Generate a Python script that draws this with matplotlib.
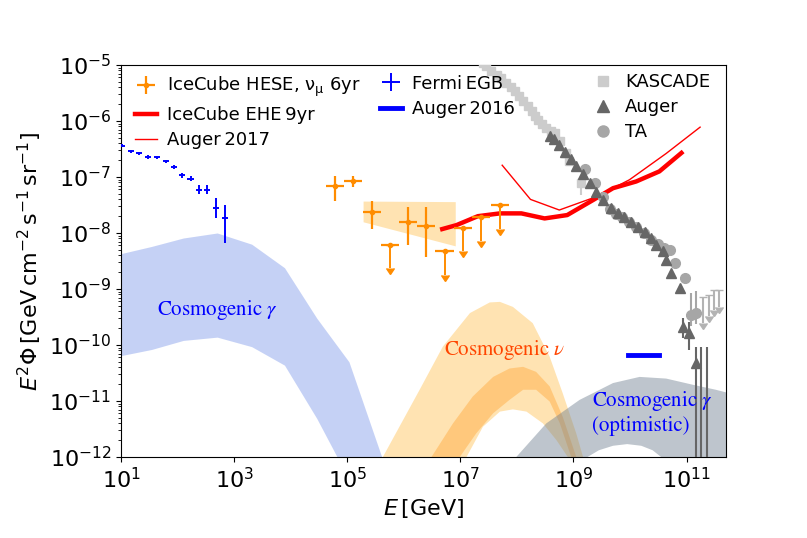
import numpy as np
import matplotlib
matplotlib.use("Agg")
import matplotlib.pyplot as plt
from matplotlib.lines import Line2D
from matplotlib.ticker import LogLocator, NullLocator, FixedLocator

# ---- data (log10 values) ----
# Fermi EGB
fermi_logE = [1.01, 1.17, 1.32, 1.48, 1.63, 1.79, 1.94, 2.08, 2.23, 2.38, 2.52, 2.68, 2.84]
fermi_logF = [-6.44, -6.54, -6.58, -6.64, -6.65, -6.72, -6.82, -6.97, -7.03, -7.23, -7.23, -7.55, -7.74]
fermi_dup = [0.03, 0.03, 0.03, 0.03, 0.03, 0.03, 0.04, 0.05, 0.05, 0.08, 0.08, 0.18, 0.24]
fermi_dlo = [0.03, 0.03, 0.03, 0.03, 0.03, 0.03, 0.04, 0.05, 0.05, 0.08, 0.08, 0.18, 0.44]

# IceCube HESE points and upper limits
hese_logE = [4.78, 5.10, 5.43, 6.08, 6.40]
hese_logF = [-7.16, -7.08, -7.63, -7.80, -7.875]
hese_top = [-6.98, -6.99, -7.42, -7.54, -7.53]
hese_bot = [-7.42, -7.18, -7.93, -8.21, -8.43]
hese_ul_logE = [5.75, 6.72, 7.05, 7.37, 7.70]
hese_ul_logF = [-8.21, -8.32, -7.91, -7.72, -7.50]
hese_ul_tip = [-8.63, -8.75, -8.33, -8.15, -7.93]

# IceCube numu 6yr band
numu_logE = [5.28, 6.91]
numu_hi = [-7.43, -7.44]
numu_lo = [-7.80, -8.23]

# IceCube EHE 9yr
ehe_logE = [6.68, 6.93, 7.31, 7.70, 8.08, 8.49, 8.89, 9.35, 9.70, 10.11, 10.52, 10.91]
ehe_logF = [-7.93, -7.86, -7.70, -7.65, -7.65, -7.74, -7.68, -7.41, -7.20, -7.08, -6.90, -6.57]

# Auger 2017
aug17_logE = [7.74, 8.24, 8.75, 9.41, 9.99, 10.64, 11.24]
aug17_logF = [-6.79, -7.40, -7.59, -7.35, -7.05, -6.58, -6.11]

# Auger 2016
aug16_logE = [9.96, 10.51]
aug16_logF = [-10.17, -10.17]

# cosmogenic gamma band
cg_up_logE = [0.95, 1.54, 2.10, 2.70, 3.31, 3.89, 4.46, 5.03, 5.61, 5.75]
cg_up_logF = [-8.38, -8.24, -8.09, -8.00, -8.20, -8.62, -9.52, -10.30, -12.0, -12.4]
cg_lo_logE = [0.95, 1.54, 2.13, 2.70, 3.31, 3.89, 4.46, 4.69, 4.80]
cg_lo_logF = [-10.20, -10.08, -9.91, -9.86, -10.03, -10.36, -11.31, -12.0, -12.4]

# cosmogenic neutrino bands
cn_out_up_logE = [5.50, 5.63, 6.28, 6.69, 7.17, 7.52, 7.70, 7.93, 8.28, 8.58, 8.81, 9.05, 9.17, 9.25]
cn_out_up_logF = [-12.4, -12.0, -10.80, -10.03, -9.43, -9.24, -9.23, -9.32, -9.61, -10.21, -10.86, -11.58, -12.0, -12.4]
cn_out_lo_logE = [7.02, 7.11, 7.40, 7.70, 7.93, 8.17, 8.46, 8.70, 8.90, 8.97]
cn_out_lo_logF = [-12.4, -12.0, -11.46, -11.19, -11.15, -11.19, -11.40, -11.70, -12.0, -12.4]
cn_in_up_logE = [6.40, 6.49, 6.87, 7.22, 7.58, 7.87, 8.11, 8.34, 8.58, 8.81, 8.99, 9.05, 9.10]
cn_in_up_logF = [-12.4, -12.0, -11.40, -10.92, -10.57, -10.42, -10.39, -10.48, -10.74, -11.28, -11.82, -12.0, -12.4]
cn_in_lo_logE = [6.90, 6.99, 7.28, 7.58, 7.87, 8.11, 8.34, 8.58, 8.76, 8.90, 8.96, 9.00]
cn_in_lo_logF = [-12.4, -12.0, -11.58, -11.22, -10.98, -10.80, -10.80, -11.01, -11.40, -11.82, -12.0, -12.4]

# cosmogenic gamma (optimistic) band
cgo_up_logE = [7.90, 7.99, 8.52, 9.11, 9.70, 10.17, 10.64, 11.11, 11.52, 11.75]
cgo_up_logF = [-12.4, -12.0, -11.40, -10.98, -10.68, -10.57, -10.60, -10.71, -10.80, -10.86]
cgo_hole_logE = [9.20, 9.25, 9.45, 9.70, 9.95, 10.20, 10.40, 10.55, 10.60]
cgo_hole_logF = [-12.4, -12.0, -11.88, -11.80, -11.77, -11.80, -11.88, -12.0, -12.4]

# cosmic rays
kascade_logE = [7.40, 7.46, 7.55, 7.64, 7.72, 7.81, 7.89, 7.96, 8.04, 8.11, 8.19, 8.26, 8.32, 8.37,
                8.45, 8.52, 8.60, 8.67, 8.76, 8.87, 8.93, 9.14]
kascade_logF = [-4.97, -5.02, -5.10, -5.17, -5.24, -5.32, -5.40, -5.47, -5.56, -5.65, -5.74, -5.83, -5.91, -5.98,
                -6.06, -6.13, -6.17, -6.21, -6.36, -6.57, -6.72, -7.11]
kascade_dlo = [0.02] * 21 + [0.22]

auger_logE = [8.58, 8.66, 8.75, 8.85, 8.95, 9.05, 9.17, 9.29, 9.40, 9.52, 9.67, 9.79, 9.90, 10.02,
              10.14, 10.26, 10.37, 10.46, 10.58, 10.64, 10.73, 10.88, 10.94, 11.04, 11.16]
auger_logF = [-6.27, -6.33, -6.42, -6.55, -6.68, -6.81, -6.95, -7.11, -7.26, -7.41, -7.56, -7.65, -7.71, -7.80,
              -7.89, -7.98, -8.09, -8.21, -8.33, -8.48, -8.72, -8.99, -9.67, -9.79, -10.33]
auger_dup = [0.01] * 22 + [0.15, 0.2, 0.3]
auger_dlo = [0.01] * 22 + [0.2, 0.3, 2.5]
auger_ul_logE = [11.26, 11.37]
auger_ul_logF = [-10.03, -10.03]

ta_logE = [9.20, 9.39, 9.52, 9.64, 9.75, 9.85, 9.98, 10.11, 10.24, 10.37, 10.50, 10.60, 10.70, 10.79, 10.98, 11.08, 11.17]
ta_logF = [-6.85, -7.11, -7.35, -7.58, -7.66, -7.72, -7.80, -7.89, -8.00, -8.12, -8.20, -8.27, -8.30, -8.54, -8.81, -9.46, -9.43]
ta_dup = [0.01] * 15 + [0.38, 0.4]
ta_dlo = [0.01] * 15 + [0.2, 0.2]
ta_ul_logE = [11.29, 11.39, 11.49, 11.58]
ta_ul_logF = [-9.14, -9.11, -9.02, -9.02]
ta_ul_tip = [-9.61, -9.49, -9.38, -9.32]

xtick_exp = [1, 3, 5, 7, 9, 11]


def p(a):
    return 10.0 ** np.asarray(a, dtype=float)


def asym(logv, up, lo):
    v = p(logv)
    return [v - p(np.asarray(logv) - np.asarray(lo)), p(np.asarray(logv) + np.asarray(up)) - v]


fig = plt.figure(figsize=(8.07, 5.38), dpi=100)
ax = fig.add_axes([0.15, 0.1506, 0.7497, 0.7286])
ax.set_xscale('log')
ax.set_yscale('log')

# bands
ax.fill_between(p(cg_up_logE), p(np.interp(cg_up_logE, cg_lo_logE, cg_lo_logF)), p(cg_up_logF),
                color='royalblue', alpha=0.3, lw=0, zorder=1)
ax.fill(p(cn_out_up_logE + cn_out_lo_logE[::-1]), p(cn_out_up_logF + cn_out_lo_logF[::-1]),
        color='orange', alpha=0.3, lw=0, zorder=1)
ax.fill(p(cn_in_up_logE + cn_in_lo_logE[::-1]), p(cn_in_up_logF + cn_in_lo_logF[::-1]),
        color='darkorange', alpha=0.3, lw=0, zorder=1)
ax.fill(p(cgo_up_logE + [11.75] + cgo_hole_logE[::-1]),
        p(cgo_up_logF + [-12.4] + cgo_hole_logF[::-1]),
        color='slategray', alpha=0.45, lw=0, zorder=1)
ax.fill_between(p(numu_logE), p(numu_lo), p(numu_hi), color='orange', alpha=0.3, lw=0, zorder=1)

# neutrino limits
l_ehe, = ax.plot(p(ehe_logE), p(ehe_logF), color='red', lw=3.2, zorder=3)
l_a17, = ax.plot(p(aug17_logE), p(aug17_logF), color='red', lw=1.0, zorder=3)
l_a16, = ax.plot(p(aug16_logE), p(aug16_logF), color='blue', lw=3.5, zorder=3)

# IceCube HESE
hx = p(hese_logE)
e_hese = ax.errorbar(hx, p(hese_logF), xerr=[hx - hx / 10 ** 0.16, hx * 10 ** 0.16 - hx],
                     yerr=[p(hese_logF) - p(hese_bot), p(hese_top) - p(hese_logF)],
                     fmt='o', ms=3, color='darkorange', elinewidth=1.6, capsize=0, zorder=4)
# upper limits: horizontal bar without caps, then the downward arrow
ux = p(hese_ul_logE)
ax.errorbar(ux, p(hese_ul_logF), xerr=[ux - ux / 10 ** 0.16, ux * 10 ** 0.16 - ux],
            fmt='o', ms=3, color='darkorange', elinewidth=1.6, capsize=0, zorder=4)
ax.errorbar(ux, p(hese_ul_logF), yerr=p(hese_ul_logF) - p(hese_ul_tip), uplims=True,
            fmt='none', color='darkorange', elinewidth=1.4, capsize=3, zorder=4)

# Fermi EGB
fx = p(fermi_logE)
e_fermi = ax.errorbar(fx, p(fermi_logF), xerr=[fx - fx / 10 ** 0.055, fx * 10 ** 0.055 - fx],
                      yerr=asym(fermi_logF, fermi_dup, fermi_dlo),
                      fmt='none', color='blue', elinewidth=1.4, capsize=0, zorder=4)

# cosmic rays
ax.errorbar(p(kascade_logE), p(kascade_logF), yerr=asym(kascade_logF, [0.02] * len(kascade_logF), kascade_dlo),
            fmt='s', ms=6, color='#cccccc', elinewidth=1.5, capsize=0, zorder=5)
ax.errorbar(p(ta_logE), p(ta_logF), yerr=asym(ta_logF, ta_dup, ta_dlo),
            fmt='o', ms=7, color='#a6a6a6', elinewidth=1.5, capsize=0, zorder=5)
ax.errorbar(p(ta_ul_logE), p(ta_ul_logF), yerr=p(ta_ul_logF) - p(ta_ul_tip), uplims=True,
            fmt='none', color='#b3b3b3', elinewidth=1.5, capsize=3, zorder=5)
ax.errorbar(p(auger_logE), p(auger_logF), yerr=asym(auger_logF, auger_dup, auger_dlo),
            fmt='^', ms=7, color='#666666', elinewidth=1.5, capsize=0, zorder=6)
ax.errorbar(p(auger_ul_logE), p(auger_ul_logF), yerr=[p(auger_ul_logF) * 0.999, p(auger_ul_logF) * 0.0],
            fmt='none', color='#666666', elinewidth=1.5, capsize=0, zorder=6)

# labels on bands
lab_kw = dict(fontsize=15, family='STIXGeneral', math_fontfamily='stix', va='center', zorder=7)
ax.text(10 ** 2.71, 10 ** -9.375, r'Cosmogenic $\gamma$', color='blue', ha='center', **lab_kw)
ax.text(10 ** 7.79, 10 ** -10.09, r'Cosmogenic $\nu$', color='orangered', ha='center', **lab_kw)
ax.text(10 ** 9.32, 10 ** -11.21, 'Cosmogenic $\\gamma$\n(optimistic)', color='blue', ha='left',
        linespacing=1.2, **lab_kw)

ax.set_xlim(10, 5e11)
ax.set_ylim(1e-12, 1e-5)
ax.xaxis.set_major_locator(FixedLocator([10.0 ** k for k in xtick_exp]))
ax.xaxis.set_minor_locator(NullLocator())
ax.yaxis.set_major_locator(LogLocator(base=10, numticks=20))
ax.yaxis.set_minor_locator(LogLocator(base=10, subs=np.arange(2, 10), numticks=20))
ax.tick_params(labelsize=16)
ax.set_xlabel(r'$E\,[\mathrm{GeV}]$', fontsize=16)
ax.set_ylabel(r'$E^2\Phi\,[\mathrm{GeV\,cm^{-2}\,s^{-1}\,sr^{-1}}]$', fontsize=16)

# legends
h_kas = Line2D([], [], marker='s', ms=7, ls='none', color='#cccccc')
h_aug = Line2D([], [], marker='^', ms=8, ls='none', color='#666666')
h_ta = Line2D([], [], marker='o', ms=8, ls='none', color='#a6a6a6')

leg_kw = dict(frameon=False, fontsize=13, loc='upper left', borderaxespad=0, borderpad=0,
              handlelength=1.2, handletextpad=0.6, labelspacing=0.4)
leg1 = ax.legend([e_hese, l_ehe, l_a17],
                 ['IceCube HESE, $\\mathrm{\\nu_\\mu}$ 6yr', 'IceCube EHE\u20099yr', 'Auger\u20092017'],
                 bbox_to_anchor=(0.023, 0.975), **leg_kw)
leg1.set_zorder(10)
ax.add_artist(leg1)
leg2 = ax.legend([e_fermi, l_a16], ['Fermi\u2009EGB', 'Auger\u20092016'],
                 bbox_to_anchor=(0.428, 0.975), **leg_kw)
leg2.set_zorder(10)
ax.add_artist(leg2)
leg3 = ax.legend([h_kas, h_aug, h_ta], ['KASCADE', 'Auger', 'TA'],
                 bbox_to_anchor=(0.779, 0.98), **leg_kw)
leg3.set_zorder(10)

fig.savefig('out.png', dpi=100)
